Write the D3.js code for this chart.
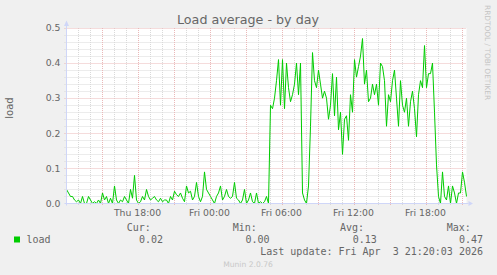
<!DOCTYPE html>
<html>
<head>
<meta charset="utf-8">
<script src="https://cdn.jsdelivr.net/npm/d3@7"></script>
<style>
  body { margin: 0; background: #f0f0f0; }
  svg { display: block; }
</style>
</head>
<body>
<div id="chart"></div>
<script>
// Load average, one sample every 10 minutes from Thu 12:05
const startTime = new Date(2026, 3, 2, 12, 5);
const stepMinutes = 10;
const loadValues = [
  0.04, 0.03, 0.02, 0.02, 0.01, 0.005, 0.01, 0.0, 0.02, 0.0,
  0.0, 0.02, 0.01, 0.0, 0.005, 0.0, 0.01, 0.0, 0.03, 0.01,
  0.02, 0.0, 0.015, 0.0, 0.05, 0.01, 0.0, 0.01, 0.005, 0.02,
  0.01, 0.0, 0.04, 0.015, 0.08, 0.01, 0.0, 0.005, 0.02, 0.01,
  0.04, 0.02, 0.01, 0.015, 0.02, 0.01, 0.005, 0.015, 0.005, 0.01,
  0.01, 0.0, 0.02, 0.01, 0.035, 0.025, 0.02, 0.03, 0.015, 0.005,
  0.05, 0.03, 0.035, 0.01, 0.02, 0.06, 0.02, 0.005, 0.02, 0.09,
  0.04, 0.03, 0.02, 0.01, 0.0, 0.02, 0.03, 0.05, 0.01, 0.02,
  0.04, 0.02, 0.015, 0.02, 0.06, 0.015, 0.01, 0.0, 0.01, 0.04,
  0.0, 0.01, 0.03, 0.005, 0.0, 0.03, 0.0, 0.005, 0.0, 0.005,
  0.02, 0.0, 0.28, 0.27, 0.30, 0.35, 0.41, 0.28, 0.41, 0.27,
  0.40, 0.33, 0.29, 0.31, 0.34, 0.40, 0.31, 0.40, 0.03, 0.01,
  0.0, 0.05, 0.22, 0.43, 0.35, 0.33, 0.38, 0.34, 0.30, 0.32,
  0.30, 0.24, 0.28, 0.37, 0.25, 0.36, 0.21, 0.26, 0.14, 0.24,
  0.25, 0.18, 0.31, 0.26, 0.41, 0.36, 0.39, 0.42, 0.47, 0.34,
  0.38, 0.29, 0.30, 0.34, 0.31, 0.34, 0.28, 0.40, 0.39, 0.35,
  0.22, 0.31, 0.29, 0.35, 0.38, 0.30, 0.22, 0.35, 0.28, 0.26,
  0.30, 0.22, 0.29, 0.32, 0.27, 0.19, 0.31, 0.35, 0.33, 0.45,
  0.33, 0.37, 0.37, 0.40, 0.26, 0.11, 0.02, 0.00, 0.09, 0.02,
  0.01, 0.05, 0.00, 0.05, 0.03, 0.00, 0.03, 0.03, 0.09, 0.06,
  0.02
];
const yTicks = [0, 0.1, 0.2, 0.3, 0.4, 0.5];
const legendHeads = ["Cur:", "Min:", "Avg:", "Max:"];
const legendValues = ["0.02", "0.00", "0.13", "0.47"];
const lastUpdate = "Last update: Fri Apr  3 21:20:03 2026";

const width = 497, height = 275;
const plot = { left: 66.5, right: 466.5, top: 28, bottom: 203.5 };

const data = loadValues.map((v, i) => ({
  t: new Date(startTime.getTime() + i * stepMinutes * 60000),
  v: v
}));

const svg = d3.select("#chart").append("svg")
  .attr("width", width)
  .attr("height", height)
  .style("font-family", "'DejaVu Sans', sans-serif");

svg.append("rect").attr("width", width).attr("height", height).attr("fill", "#f0f0f0");

// Scales
const endTime = new Date(startTime.getTime() + 400 * 5 * 60000);
const x = d3.scaleTime().domain([startTime, endTime]).range([plot.left, plot.right]);
const y = d3.scaleLinear().domain([0, 0.5]).range([plot.bottom, plot.top]);

svg.append("rect")
  .attr("x", plot.left).attr("y", plot.top)
  .attr("width", plot.right - plot.left).attr("height", plot.bottom - plot.top)
  .attr("fill", "#ffffff");

// Grid: minor
const hours = d3.timeHour.range(startTime, endTime);
const minorY = d3.range(0, 0.5001, 0.02);
const minorColor = "#d9d9d9", majorColor = "#eab8b8";

svg.append("g").selectAll("line")
  .data(minorY.filter(v => Math.round(v * 100) % 10 !== 0))
  .join("line")
  .attr("x1", plot.left - 2).attr("x2", plot.right)
  .attr("y1", d => Math.round(y(d)) + 0.5).attr("y2", d => Math.round(y(d)) + 0.5)
  .attr("stroke", minorColor).attr("stroke-dasharray", "1,1");

svg.append("g").selectAll("line")
  .data(hours.filter(h => h.getHours() % 3 !== 0))
  .join("line")
  .attr("x1", d => Math.round(x(d)) + 0.5).attr("x2", d => Math.round(x(d)) + 0.5)
  .attr("y1", plot.top).attr("y2", plot.bottom + 2)
  .attr("stroke", minorColor).attr("stroke-dasharray", "1,1");

// Grid: major
svg.append("g").selectAll("line")
  .data(yTicks.slice(1))
  .join("line")
  .attr("x1", plot.left - 2).attr("x2", plot.right)
  .attr("y1", d => Math.round(y(d)) + 0.5).attr("y2", d => Math.round(y(d)) + 0.5)
  .attr("stroke", majorColor).attr("stroke-dasharray", "1,1");

svg.append("g").selectAll("line")
  .data(hours.filter(h => h.getHours() % 3 === 0))
  .join("line")
  .attr("x1", d => Math.round(x(d)) + 0.5).attr("x2", d => Math.round(x(d)) + 0.5)
  .attr("y1", plot.top).attr("y2", plot.bottom + 2)
  .attr("stroke", majorColor).attr("stroke-dasharray", "1,1");

// Axis labels
svg.append("g").selectAll("text")
  .data(yTicks)
  .join("text")
  .attr("x", 60.5).attr("y", d => y(d)).attr("dy", "0.35em")
  .attr("text-anchor", "end")
  .attr("font-size", "9.3px").attr("fill", "#666")
  .text(d3.format(".1f"));

svg.append("g").selectAll("text")
  .data(hours.filter(h => h.getHours() % 6 === 0))
  .join("text")
  .attr("x", d => x(d)).attr("y", 215.7)
  .attr("text-anchor", "middle")
  .attr("font-size", "9.3px").attr("fill", "#666")
  .text(d3.timeFormat("%a %H:%M"));

// Line
const line = d3.line().x(d => x(d.t)).y(d => y(d.v));
svg.append("path")
  .datum(data)
  .attr("d", line)
  .attr("fill", "none")
  .attr("stroke", "#00cc00")
  .attr("stroke-width", 1);

// Axes with arrows
const axisColor = "#cfd6f8";
svg.append("line")
  .attr("x1", plot.left).attr("x2", plot.left)
  .attr("y1", plot.bottom + 2).attr("y2", 25)
  .attr("stroke", axisColor);
svg.append("line")
  .attr("x1", plot.left - 2).attr("x2", plot.right + 2)
  .attr("y1", plot.bottom).attr("y2", plot.bottom)
  .attr("stroke", axisColor);
svg.append("path")
  .attr("d", `M${plot.left - 2.5},26 L${plot.left},20.5 L${plot.left + 2.5},26 Z`)
  .attr("fill", axisColor);
svg.append("path")
  .attr("d", `M${plot.right + 2},${plot.bottom - 2.5} L${plot.right + 6.5},${plot.bottom} L${plot.right + 2},${plot.bottom + 2.5} Z`)
  .attr("fill", axisColor);

// Title and side texts
svg.append("text")
  .attr("x", 248).attr("y", 24)
  .attr("text-anchor", "middle")
  .attr("font-size", "12.7px").attr("fill", "#666")
  .text("Load average - by day");

svg.append("text")
  .attr("transform", "translate(13,108) rotate(-90)")
  .attr("text-anchor", "middle")
  .attr("font-size", "10px").attr("fill", "#666")
  .text("load");

svg.append("text")
  .attr("transform", "translate(484.5,5) rotate(90)")
  .attr("font-size", "7.4px").attr("fill", "#c4c4c4")
  .text("RRDTOOL / TOBI OETIKER");

// Legend
const legend = svg.append("g")
  .style("font-family", "'DejaVu Sans Mono', monospace")
  .attr("font-size", "10px").attr("fill", "#666");

legend.append("rect")
  .attr("x", 14).attr("y", 236.5).attr("width", 6).attr("height", 6)
  .attr("fill", "#00cc00");
legend.append("text").attr("x", 26.5).attr("y", 242.7).text("load");

const headEnds = [150.8, 256.8, 364, 470.8];
const valueEnds = [163, 269.5, 376.8, 483];
legend.selectAll("text.head")
  .data(legendHeads)
  .join("text").attr("class", "head")
  .attr("x", (d, i) => headEnds[i]).attr("y", 231)
  .attr("text-anchor", "end")
  .text(d => d);
legend.selectAll("text.val")
  .data(legendValues)
  .join("text").attr("class", "val")
  .attr("x", (d, i) => valueEnds[i]).attr("y", 242.7)
  .attr("text-anchor", "end")
  .text(d => d);
legend.append("text")
  .attr("x", 483).attr("y", 254.5)
  .attr("text-anchor", "end")
  .attr("xml:space", "preserve")
  .style("white-space", "pre")
  .text(lastUpdate);

svg.append("text")
  .attr("x", 248).attr("y", 266.5)
  .attr("text-anchor", "middle")
  .attr("font-size", "7.6px").attr("fill", "#c8c8c8")
  .text("Munin 2.0.76");
</script>
</body>
</html>
